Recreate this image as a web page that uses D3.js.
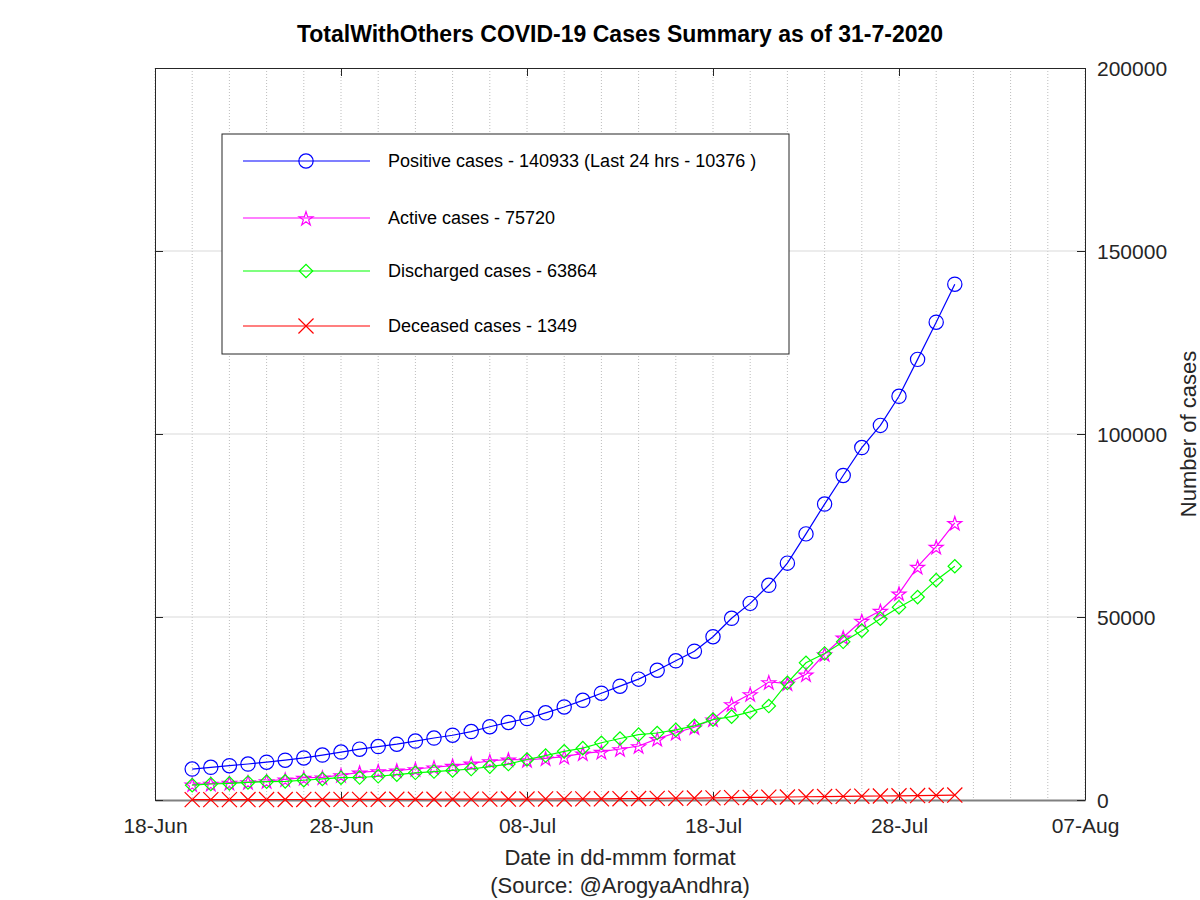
<!DOCTYPE html>
<html>
<head>
<meta charset="utf-8">
<script src="https://cdn.jsdelivr.net/npm/d3@7"></script>
<style>
  body { margin: 0; background: #fff; }
  text { font-family: "Liberation Sans", Arial, sans-serif; }
</style>
</head>
<body>
<div class="canva"></div>
<script>
// dates shown on the chart (20-Jun .. 31-Jul 2020)
const dates = ["2020-06-20","2020-06-21","2020-06-22","2020-06-23","2020-06-24","2020-06-25","2020-06-26",
  "2020-06-27","2020-06-28","2020-06-29","2020-06-30","2020-07-01","2020-07-02","2020-07-03","2020-07-04",
  "2020-07-05","2020-07-06","2020-07-07","2020-07-08","2020-07-09","2020-07-10","2020-07-11","2020-07-12",
  "2020-07-13","2020-07-14","2020-07-15","2020-07-16","2020-07-17","2020-07-18","2020-07-19","2020-07-20",
  "2020-07-21","2020-07-22","2020-07-23","2020-07-24","2020-07-25","2020-07-26","2020-07-27","2020-07-28",
  "2020-07-29","2020-07-30","2020-07-31"];

const positive = [8452, 8929, 9372, 9834, 10331, 10884, 11489, 12285, 13098, 13891, 14595,
  15252, 16097, 16934, 17699, 18697, 20019, 21197, 22259, 23814, 25422,
  27235, 29168, 31103, 33019, 35451, 38044, 40646, 44609, 49650, 53724,
  58668, 64713, 72711, 80858, 88671, 96298, 102349, 110297, 120390, 130557, 140933];

const active = [4290, 4454, 4727, 4918, 5191, 5656, 6093, 6202, 6831, 7568, 7923,
  8115, 8470, 8950, 9400, 10000, 10650, 11120, 10929, 11393, 11831,
  12760, 13197, 13934, 14754, 16700, 18388, 19863, 22049, 26230, 28962,
  32240, 31885, 34344, 39891, 44454, 48989, 51721, 56475, 63743, 69208, 75720];

const discharged = [4061, 4369, 4534, 4797, 5012, 5092, 5400, 5750, 6098, 6143, 6485,
  6944, 7429, 7778, 8081, 8465, 9130, 9825, 11066, 12144, 13299,
  14166, 15643, 16804, 17857, 18299, 19164, 20249, 21974, 22778, 24066,
  25670, 32005, 37483, 40034, 43232, 46268, 49538, 52674, 55434, 60068, 63864];

const deceased = [101, 106, 111, 119, 128, 136, 142, 146, 169, 180, 187,
  193, 198, 206, 218, 232, 239, 252, 264, 277, 292,
  309, 328, 365, 408, 452, 492, 534, 586, 642, 696,
  758, 823, 884, 933, 985, 1041, 1090, 1148, 1213, 1281, 1349];

const legendLabels = ["Positive cases - 140933 (Last 24 hrs - 10376 )",
                      "Active cases - 75720",
                      "Discharged cases - 63864",
                      "Deceased cases - 1349"];

const xTickDates = ["2020-06-18","2020-06-28","2020-07-08","2020-07-18","2020-07-28","2020-08-07"];
const yTickValues = [0, 50000, 100000, 150000, 200000];

const parseDate = d3.timeParse("%Y-%m-%d");
const formatDate = d3.timeFormat("%d-%b");

const canvas = d3.select(".canva");

const svg = canvas.append("svg")
            .attr("width", 1200)
            .attr("height", 900);

const margin = {top: 68, right: 115, bottom: 100, left: 155};
const graphWidth = 1200 - margin.left - margin.right;
const graphHeight = 900 - margin.top - margin.bottom;

const mainCanvas = svg.append("g")
                .attr("transform", `translate(${margin.left}, ${margin.top})`);

const x = d3.scaleTime()
            .domain([parseDate("2020-06-18"), parseDate("2020-08-07")])
            .range([0, graphWidth]);

const y = d3.scaleLinear()
            .domain([0, 200000])
            .range([graphHeight, 0]);

//grid: dotted verticals every 2 days
const gridDays = d3.timeDay.range(parseDate("2020-06-18"), parseDate("2020-08-08"), 2);
mainCanvas.append("g")
    .selectAll("line")
    .data(gridDays)
    .enter()
    .append("line")
    .attr("x1", d => x(d))
    .attr("x2", d => x(d))
    .attr("y1", 0)
    .attr("y2", graphHeight)
    .attr("stroke", "#bdbdbd")
    .attr("stroke-width", 1)
    .attr("stroke-dasharray", "1,2");

//horizontal grid
mainCanvas.append("g")
    .selectAll("line")
    .data(yTickValues.slice(1, -1))
    .enter()
    .append("line")
    .attr("x1", 0)
    .attr("x2", graphWidth)
    .attr("y1", d => y(d))
    .attr("y2", d => y(d))
    .attr("stroke", "#d9d9d9")
    .attr("stroke-width", 1);

//axes
const xTicks = xTickDates.map(parseDate);

const xAxis = d3.axisBottom(x)
                .tickValues(xTicks)
                .tickFormat(formatDate)
                .tickSizeInner(-8)
                .tickSizeOuter(0)
                .tickPadding(18);

const xAxisGroup = mainCanvas.append("g")
                .attr("transform", `translate(0, ${graphHeight})`)
                .call(xAxis);

const xAxisTop = d3.axisTop(x)
                .tickValues(xTicks)
                .tickFormat("")
                .tickSizeInner(-8)
                .tickSizeOuter(0);

mainCanvas.append("g").call(xAxisTop);

const yAxis = d3.axisRight(y)
                .tickValues(yTickValues)
                .tickFormat(d3.format("d"))
                .tickSizeInner(-8)
                .tickSizeOuter(0)
                .tickPadding(12);

const yAxisGroup = mainCanvas.append("g")
                .attr("transform", `translate(${graphWidth}, 0)`)
                .call(yAxis);

const yAxisLeft = d3.axisLeft(y)
                .tickValues(yTickValues)
                .tickFormat("")
                .tickSizeInner(-8)
                .tickSizeOuter(0);

mainCanvas.append("g").call(yAxisLeft);

mainCanvas.selectAll(".domain")
    .attr("stroke", "#262626")
    .attr("stroke-width", 1);
mainCanvas.selectAll(".tick line")
    .attr("stroke", "#262626");

xAxisGroup.selectAll("text")
    .attr("font-size", 21)
    .attr("fill", "#262626");
yAxisGroup.selectAll("text")
    .attr("font-size", 21)
    .attr("fill", "#262626")
    .attr("dy", "0.35em");

//bottom axis line is grey/thicker
xAxisGroup.select(".domain")
    .attr("stroke", "#808080")
    .attr("stroke-width", 2);

//series
const series = [
  {name: "positive", values: positive, color: "#0000ff", symbol: "circle"},
  {name: "active", values: active, color: "#ff00ff", symbol: "star"},
  {name: "discharged", values: discharged, color: "#00ff00", symbol: "diamond"},
  {name: "deceased", values: deceased, color: "#ff0000", symbol: "cross"}
];

const dateValues = dates.map(parseDate);

const line = d3.line()
            .x((d, i) => x(dateValues[i]))
            .y(d => y(d));

function markerPath(type) {
  if (type === "circle") return d3.symbol(d3.symbolCircle, 160)();
  if (type === "star") return d3.symbol(d3.symbolStar, 60)();
  if (type === "diamond") return d3.symbol(d3.symbolSquare, 90)();
  return d3.symbol(d3.symbolTimes, 150)();
}

function markerTransform(type, px, py) {
  if (type === "diamond") return `translate(${px},${py}) rotate(45)`;
  if (type === "star") return `translate(${px},${py + 1})`;
  return `translate(${px},${py})`;
}

series.forEach(function(s) {
  const g = mainCanvas.append("g").attr("class", "series-" + s.name);

  g.append("path")
    .datum(s.values)
    .attr("d", line)
    .attr("fill", "none")
    .attr("stroke", s.color)
    .attr("stroke-width", 1.2);

  g.selectAll("path.marker")
    .data(s.values)
    .enter()
    .append("path")
    .attr("class", "marker")
    .attr("d", markerPath(s.symbol))
    .attr("transform", (d, i) => markerTransform(s.symbol, x(dateValues[i]), y(d)))
    .attr("fill", "none")
    .attr("stroke", s.color)
    .attr("stroke-width", 1.2);
});

//Legend
const legendGroup = svg.append("g")
              .attr("transform", "translate(222, 134)");

legendGroup.append("rect")
    .attr("width", 567)
    .attr("height", 220)
    .attr("fill", "#fff")
    .attr("stroke", "#262626")
    .attr("stroke-width", 1);

const legendRows = [27, 84, 137, 192];

series.forEach(function(s, i) {
  const ly = legendRows[i];
  legendGroup.append("line")
    .attr("x1", 21)
    .attr("x2", 148)
    .attr("y1", ly)
    .attr("y2", ly)
    .attr("stroke", s.color)
    .attr("stroke-width", 1.2);

  legendGroup.append("path")
    .attr("d", markerPath(s.symbol))
    .attr("transform", markerTransform(s.symbol, 84, ly))
    .attr("fill", "none")
    .attr("stroke", s.color)
    .attr("stroke-width", 1.2);

  legendGroup.append("text")
    .attr("x", 166)
    .attr("y", ly)
    .attr("dy", "0.35em")
    .attr("font-size", 18)
    .attr("fill", "#000")
    .text(legendLabels[i]);
});

//Titles
svg.append("text")
    .attr("x", 620)
    .attr("y", 42)
    .attr("text-anchor", "middle")
    .attr("font-size", 23)
    .attr("font-weight", "bold")
    .attr("fill", "#000")
    .text("TotalWithOthers COVID-19 Cases Summary as of 31-7-2020");

svg.append("text")
    .attr("x", 620)
    .attr("y", 865)
    .attr("text-anchor", "middle")
    .attr("font-size", 22)
    .attr("fill", "#262626")
    .text("Date in dd-mmm format");

svg.append("text")
    .attr("x", 620)
    .attr("y", 893)
    .attr("text-anchor", "middle")
    .attr("font-size", 22)
    .attr("fill", "#262626")
    .text("(Source: @ArogyaAndhra)");

svg.append("text")
    .attr("transform", "translate(1188, 434) rotate(-90)")
    .attr("dy", "0.35em")
    .attr("text-anchor", "middle")
    .attr("font-size", 22)
    .attr("fill", "#262626")
    .text("Number of cases");
</script>
</body>
</html>
